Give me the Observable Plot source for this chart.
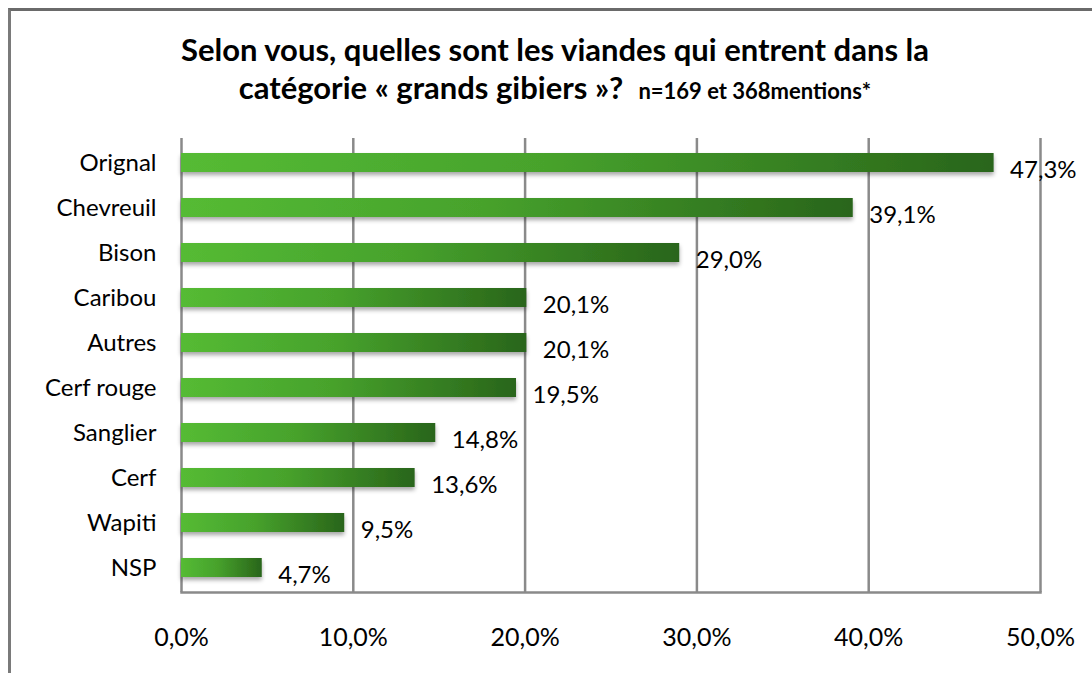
<!DOCTYPE html>
<html>
<head>
<meta charset="utf-8">
<script src="https://cdn.jsdelivr.net/npm/d3@7"></script>
<script src="https://cdn.jsdelivr.net/npm/@observablehq/plot@0.6"></script>
<style>
  html, body { margin: 0; padding: 0; background: #fff; }
  body { width: 1092px; height: 673px; position: relative; overflow: hidden; font-family: Lato, "Open Sans", sans-serif; }
  #frame { position: absolute; left: 8px; top: 8px; width: 1100px; height: 700px; border-left: 3px solid #7a7a7a; border-top: 3px solid #6a6a6a; }
  #title { position: absolute; left: 0; top: 0; width: 1110px; height: 120px; text-align: center; font-weight: bold; color: #000; white-space: nowrap; }
  #title .l1 { position: absolute; left: 0; right: 0; top: 30px; font-size: 31px; }
  #title .l2 { position: absolute; left: 0; right: 0; top: 68px; font-size: 31px; }
  #title .small { font-size: 22px; }
  #chart { position: absolute; left: 0; top: 120px; }
</style>
</head>
<body>
<div id="frame"></div>
<div id="title">
  <div class="l1">Selon vous, quelles sont les viandes qui entrent dans la</div>
  <div class="l2">catégorie « grands gibiers »?&nbsp; <span class="small">n=169 et 368mentions*</span></div>
</div>
<div id="chart"></div>
<script>
const categories = ["Orignal", "Chevreuil", "Bison", "Caribou", "Autres", "Cerf rouge", "Sanglier", "Cerf", "Wapiti", "NSP"];
const values = [47.3, 39.1, 29.0, 20.1, 20.1, 19.5, 14.8, 13.6, 9.5, 4.7];
const xTicks = [0, 10, 20, 30, 40, 50];

const data = categories.map((c, i) => ({category: c, value: values[i]}));
const fmt = v => v.toFixed(1).replace(".", ",") + "%";

const plot = Plot.plot({
  width: 1092,
  height: 553,
  marginTop: 18,
  marginBottom: 81,
  marginLeft: 181,
  marginRight: 52,
  style: {fontFamily: "Lato, 'Open Sans', sans-serif", fontSize: "24px", color: "#000", background: "transparent"},
  x: {domain: [0, 50], ticks: xTicks, tickFormat: fmt, tickSize: 0, tickPadding: 36, label: null},
  y: {domain: categories, paddingInner: 0.585, paddingOuter: 0.29, tickSize: 0, tickPadding: 25, label: null},
  marks: [
    Plot.gridX(xTicks, {stroke: "#8a8a8a", strokeOpacity: 1, strokeWidth: 2.5}),
    Plot.frame({anchor: "bottom", stroke: "#8a8a8a", strokeWidth: 2.5}),
    Plot.barX(data, {x: "value", y: "category", fill: "url(#barGrad)", className: "bars"}),
    Plot.text(data, {x: "value", y: "category", text: d => fmt(d.value), textAnchor: "start", dx: 16, dy: 7, fontSize: 24, fill: "#000"})
  ]
});

const svg = d3.select(plot);
svg.selectAll("g[aria-label='x-axis tick label'] text").style("font-size", "25px");
const defs = svg.insert("defs", ":first-child");
const g = defs.append("linearGradient").attr("id", "barGrad").attr("x1", 0).attr("x2", 1).attr("y1", 0).attr("y2", 0);
g.append("stop").attr("offset", "0%").attr("stop-color", "#55bb34");
g.append("stop").attr("offset", "45%").attr("stop-color", "#47a22c");
g.append("stop").attr("offset", "100%").attr("stop-color", "#29651a");
const f = defs.append("filter").attr("id", "barShadow").attr("x", "-5%").attr("y", "-30%").attr("width", "110%").attr("height", "190%");
f.append("feDropShadow").attr("dx", 0).attr("dy", 3).attr("stdDeviation", 2).attr("flood-color", "#000").attr("flood-opacity", 0.35);
svg.selectAll("g.bars rect, g[aria-label='bar'] rect").attr("filter", "url(#barShadow)");

document.getElementById("chart").appendChild(plot);
</script>
</body>
</html>
